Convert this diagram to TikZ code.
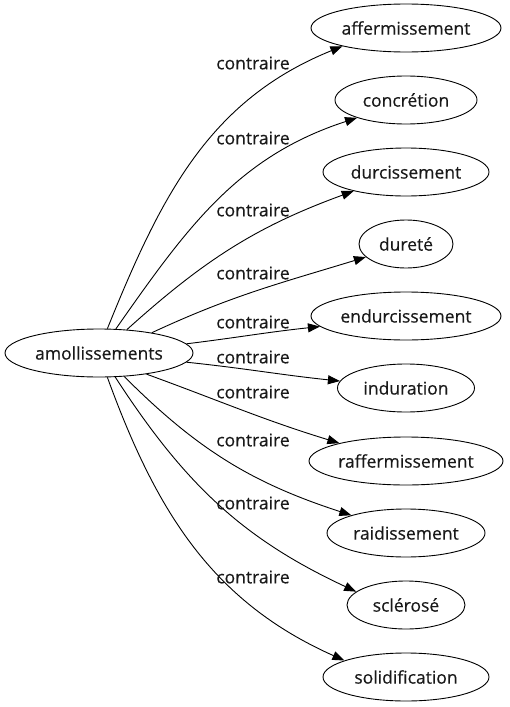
\documentclass[tikz,border=0pt]{standalone}
\usepackage{fontspec}
\setmainfont{Open Sans}[FakeBold=0.4,AutoFakeBold=0.4]
\usetikzlibrary{shapes.geometric,arrows.meta}
\begin{document}
\begin{tikzpicture}[x=1pt,y=1pt,
  every node/.style={font=\fontsize{17.5}{20}\selectfont\bfseries, text=black!90},
  word/.style={ellipse, draw, line width=0.9pt, inner sep=0pt, minimum height=48pt},
  lbl/.style={inner sep=0pt},
  edge/.style={line width=0.9pt, -{Triangle[length=12pt,width=9pt]}}]
\useasboundingbox (0,0) rectangle (510,-707);
\node[word, minimum width=188pt] (s) at (99,-353) {amollissements};
\node[word, minimum width=190pt] (t1) at (406,-28) {affermissement};
\node[word, minimum width=142pt] (t2) at (406,-100) {concrétion};
\node[word, minimum width=166pt] (t3) at (406,-172) {durcissement};
\node[word, minimum width=94pt] (t4) at (406,-244) {dureté};
\node[word, minimum width=190pt] (t5) at (406,-316) {endurcissement};
\node[word, minimum width=137pt] (t6) at (406,-388) {induration};
\node[word, minimum width=194pt] (t7) at (406,-461) {raffermissement};
\node[word, minimum width=158pt] (t8) at (406,-533) {raidissement};
\node[word, minimum width=118pt] (t9) at (406,-605) {sclérosé};
\node[word, minimum width=166pt] (t10) at (406,-677) {solidification};
\draw[edge] (s.71) to[out=68,in=202] (t1.196);
\draw[edge] (s.55) to[out=55,in=198] (t2.200);
\draw[edge] (s.40) to[out=42,in=200] (t3.200);
\draw[edge] (s.21) to[out=25,in=197] (t4.198);
\draw[edge] (s.6) to[out=7,in=186] (t5.187);
\draw[edge] (s.-6) to[out=-6,in=174] (t6.174);
\draw[edge] (s.-24) to[out=-20,in=163] (t7.165);
\draw[edge] (s.-43) to[out=-45,in=162] (t8.162);
\draw[edge] (s.-56) to[out=-57,in=155] (t9.165);
\draw[edge] (s.-71) to[out=-70,in=156] (t10.165);
\node[lbl] (l1) at (253,-63) {contraire};
\node[lbl] (l2) at (253,-138) {contraire};
\node[lbl] (l3) at (253,-210) {contraire};
\node[lbl] (l4) at (253,-273) {contraire};
\node[lbl] (l5) at (253,-322) {contraire};
\node[lbl] (l6) at (253,-357) {contraire};
\node[lbl] (l7) at (253,-392) {contraire};
\node[lbl] (l8) at (253,-440) {contraire};
\node[lbl] (l9) at (253,-503) {contraire};
\node[lbl] (l10) at (253,-577) {contraire};
\end{tikzpicture}
\end{document}
